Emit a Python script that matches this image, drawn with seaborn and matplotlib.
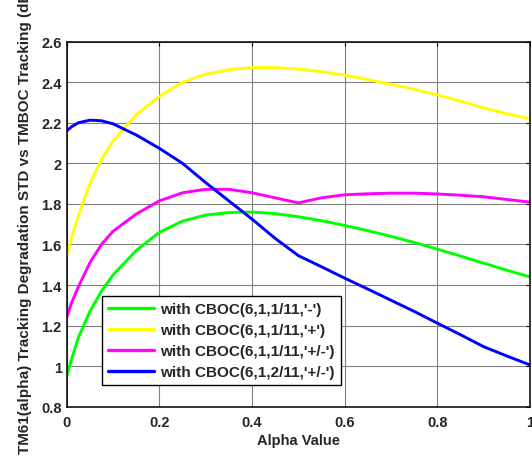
import numpy as np
import pandas as pd
import matplotlib
matplotlib.use("Agg")
import matplotlib.pyplot as plt
import seaborn as sns

# values
alpha = [0, 0.01, 0.025, 0.05, 0.075, 0.1, 0.15, 0.2, 0.25, 0.3, 0.35, 0.4,
         0.45, 0.5, 0.55, 0.6, 0.65, 0.7, 0.75, 0.8, 0.85, 0.9, 0.95, 1.0]

cboc_minus = [0.95, 1.03, 1.14, 1.27, 1.37, 1.45, 1.57, 1.66, 1.715, 1.745, 1.757, 1.76,
              1.752, 1.737, 1.717, 1.694, 1.668, 1.64, 1.61, 1.577, 1.543, 1.508, 1.473, 1.44]
cboc_plus = [1.55, 1.63, 1.74, 1.90, 2.02, 2.11, 2.24, 2.33, 2.40, 2.44, 2.462, 2.472,
             2.472, 2.465, 2.452, 2.435, 2.413, 2.39, 2.365, 2.338, 2.307, 2.273, 2.245, 2.22]
cboc_pm = [1.24, 1.31, 1.39, 1.51, 1.60, 1.665, 1.75, 1.815, 1.855, 1.872, 1.872, 1.855,
           1.83, 1.805, 1.83, 1.845, 1.85, 1.853, 1.853, 1.849, 1.843, 1.835, 1.822, 1.809]
cboc2_pm = [2.16, 2.18, 2.20, 2.213, 2.21, 2.195, 2.14, 2.074, 2.0, 1.905, 1.815, 1.725,
            1.63, 1.545, 1.49, 1.434, 1.38, 1.325, 1.27, 1.212, 1.155, 1.096, 1.05, 1.006]

labels = ["with CBOC(6,1,1/11,'-')", "with CBOC(6,1,1/11,'+')",
          "with CBOC(6,1,1/11,'+/-')", "with CBOC(6,1,2/11,'+/-')"]
colors = ["#00ff00", "#ffff00", "#ff00ff", "#0000ff"]

xticks = [0, 0.2, 0.4, 0.6, 0.8, 1]
yticks = [0.8, 1, 1.2, 1.4, 1.6, 1.8, 2, 2.2, 2.4, 2.6]
ytick_labels = ["0.8", "1", "1.2", "1.4", "1.6", "1.8", "2", "2.2", "2.4", "2.6"]
xtick_labels = ["0", "0.2", "0.4", "0.6", "0.8", "1"]

frames = []
for lab, vals in zip(labels, [cboc_minus, cboc_plus, cboc_pm, cboc2_pm]):
    frames.append(pd.DataFrame({"alpha": alpha, "value": vals, "series": lab}))
df = pd.concat(frames, ignore_index=True)

sns.set_style("white")
plt.rcParams['font.family'] = ['Liberation Sans', 'DejaVu Sans']

fig = plt.figure(figsize=(5.32, 4.60), dpi=100)
ax = fig.add_axes([0.1254, 0.1137, 0.8708, 0.7935])

sns.lineplot(data=df, x="alpha", y="value", hue="series", hue_order=labels,
             palette=colors, linewidth=2.1, ax=ax, legend=True)

ax.set_xlim(0, 1)
ax.set_ylim(0.8, 2.6)
ax.set_xticks(xticks)
ax.set_xticklabels(xtick_labels, fontsize=10.5, fontweight='bold')
ax.set_yticks(yticks)
ax.set_yticklabels(ytick_labels, fontsize=10.5, fontweight='bold')
ax.tick_params(direction='in', length=3, width=0.8, top=True, right=True, color='black')
ax.tick_params(axis='x', pad=6)
ax.tick_params(axis='y', pad=3.5)
ax.grid(True, color='#808080', linewidth=0.8)
ax.set_axisbelow(True)
for s in ax.spines.values():
    s.set_color('black')
    s.set_linewidth(1.1)

ax.set_xlabel('Alpha Value', fontsize=10.5, fontweight='bold', labelpad=3)
# the label is longer than the figure is tall, so its end gets clipped like in the original
ax.set_ylabel('TM61(alpha) Tracking Degradation STD vs TMBOC Tracking (dB)',
              fontsize=11, fontweight='bold', va='center')
ax.yaxis.set_label_coords(-0.09, 0.515)

handles, labs = ax.get_legend_handles_labels()
leg = ax.legend(handles, labs, loc='lower left', bbox_to_anchor=(0.0768, 0.059),
                borderaxespad=0, fancybox=False, framealpha=1, edgecolor='black',
                prop={'weight': 'bold', 'size': 11}, handlelength=3.0,
                handletextpad=0.4, labelspacing=0.45, borderpad=0.4)
leg.get_frame().set_linewidth(1.0)
for line in leg.get_lines():
    line.set_linewidth(2.4)

fig.savefig('out.png', dpi=100)
